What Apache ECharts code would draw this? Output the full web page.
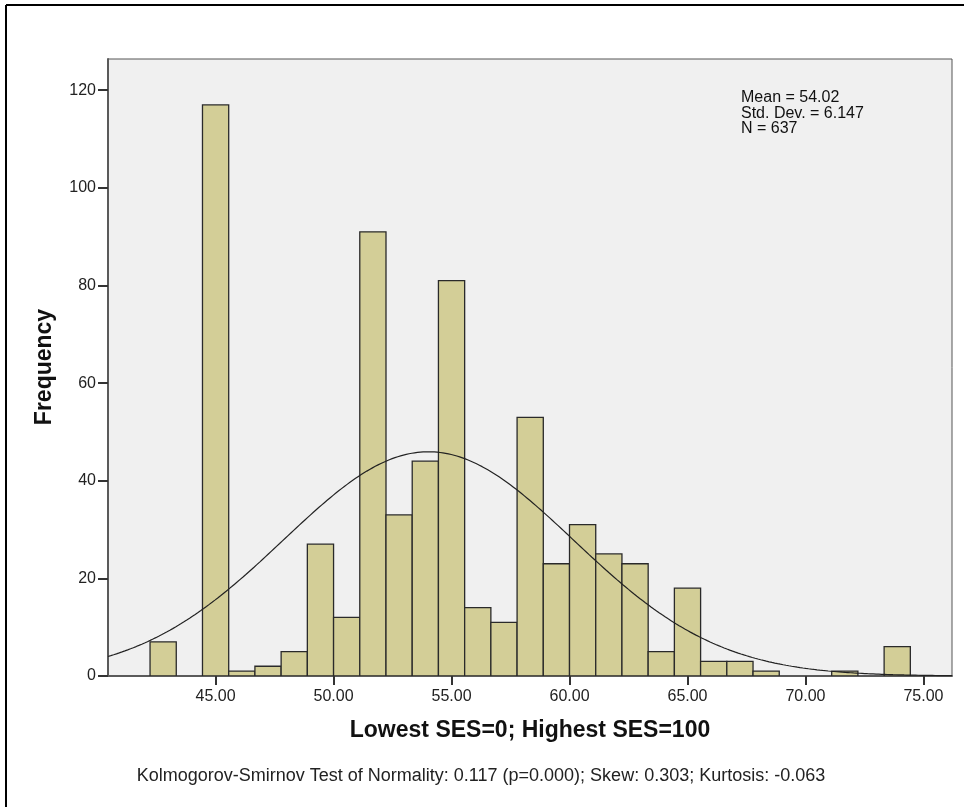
<!DOCTYPE html>
<html>
<head>
<meta charset="utf-8">
<script src="https://cdn.jsdelivr.net/npm/echarts@6/dist/echarts.min.js"></script>
<style>
  html, body { margin: 0; padding: 0; background: #ffffff; }
  #chart { width: 964px; height: 807px; }
</style>
</head>
<body>
<div id="chart"></div>
<script>
// Histogram of SES scores with a fitted normal curve
const binStart = 42.222;
const binWidth = 10 / 9;
const binCounts = [7, 0, 117, 1, 2, 5, 27, 12, 91, 33, 44, 81, 14, 11, 53, 23, 31, 25, 23, 5, 18, 3, 3, 1, 0, 0, 1, 0, 6];

const statMean = 54.02;
const statSD = 6.147;
const statN = 637;

const xTicks = [45, 50, 55, 60, 65, 70, 75];
const yTicks = [0, 20, 40, 60, 80, 100, 120];

const xMin = 40.44, xMax = 76.21;
const yMax = 126.4;

const statsLines = ['Mean = 54.02', 'Std. Dev. = 6.147', 'N = 637'];
const xTitle = 'Lowest SES=0; Highest SES=100';
const yTitle = 'Frequency';
const footnote = 'Kolmogorov-Smirnov Test of Normality: 0.117 (p=0.000); Skew: 0.303; Kurtosis: -0.063';

// bars as [left edge, right edge, count]
const barData = binCounts.map((c, i) => [binStart + i * binWidth, binStart + (i + 1) * binWidth, c]);

// normal density scaled to counts per bin
const curveData = [];
const steps = 300;
for (let k = 0; k <= steps; k++) {
  const x = xMin + (xMax - xMin) * k / steps;
  const z = (x - statMean) / statSD;
  const y = statN * binWidth * Math.exp(-0.5 * z * z) / (statSD * Math.sqrt(2 * Math.PI));
  curveData.push([x, y]);
}

const chart = echarts.init(document.getElementById('chart'), null, { renderer: 'canvas' });
const font = 'Arial, "Liberation Sans", sans-serif';

chart.setOption({
  animation: false,
  backgroundColor: '#ffffff',
  grid: {
    left: 108, top: 59, right: 12, bottom: 131,
    show: true, backgroundColor: '#f0f0f0', borderColor: '#555555', borderWidth: 1
  },
  xAxis: {
    type: 'value', min: xMin, max: xMax,
    axisLine: { show: true, onZero: false, lineStyle: { color: '#5a5a5a', width: 2 } },
    axisTick: { show: true, customValues: xTicks, length: 9, inside: false, lineStyle: { color: '#333333', width: 2 } },
    axisLabel: { customValues: xTicks, color: '#222222', fontFamily: font, fontSize: 16, margin: 13,
      formatter: v => v.toFixed(2) },
    splitLine: { show: false }
  },
  yAxis: {
    type: 'value', min: 0, max: yMax,
    axisLine: { show: true, lineStyle: { color: '#5a5a5a', width: 2 } },
    axisTick: { show: true, customValues: yTicks, length: 10, lineStyle: { color: '#333333', width: 2 } },
    axisLabel: { customValues: yTicks, color: '#222222', fontFamily: font, fontSize: 16, margin: 12 },
    splitLine: { show: false }
  },
  series: [
    {
      type: 'custom',
      data: barData,
      encode: { x: [0, 1], y: 2 },
      clip: true,
      renderItem: function (params, api) {
        const count = api.value(2);
        if (!count) return null;
        const p0 = api.coord([api.value(0), count]);
        const p1 = api.coord([api.value(1), 0]);
        return {
          type: 'rect',
          shape: { x: p0[0], y: p0[1], width: p1[0] - p0[0], height: p1[1] - p0[1] },
          style: { fill: '#d3ce97', stroke: '#2a2a2a', lineWidth: 1.3 }
        };
      },
      z: 2
    },
    {
      type: 'line',
      data: curveData,
      showSymbol: false,
      symbol: 'none',
      smooth: false,
      lineStyle: { color: '#222222', width: 1.2 },
      clip: true,
      z: 3
    }
  ],
  graphic: [
    // outer frame
    { type: 'line', shape: { x1: 6, y1: 5, x2: 964, y2: 5 }, style: { stroke: '#000', lineWidth: 2 }, silent: true },
    { type: 'line', shape: { x1: 6, y1: 5, x2: 6, y2: 807 }, style: { stroke: '#000', lineWidth: 2 }, silent: true },
    {
      type: 'text', left: 741, top: 90, silent: true,
      style: { text: statsLines.join('\n'), font: '16px ' + font, fill: '#111', lineHeight: 15.5 }
    },
    {
      type: 'text', silent: true, x: 45, y: 367, rotation: Math.PI / 2,
      style: { text: yTitle, font: 'bold 23px ' + font, fill: '#111', align: 'center', verticalAlign: 'middle' }
    },
    {
      type: 'text', silent: true, x: 530, y: 731,
      style: { text: xTitle, font: 'bold 23px ' + font, fill: '#111', align: 'center', verticalAlign: 'middle' }
    },
    {
      type: 'text', silent: true, x: 481, y: 776,
      style: { text: footnote, font: '18px "Liberation Sans Narrow", "Arial Narrow", ' + font, fill: '#222', align: 'center', verticalAlign: 'middle' }
    }
  ]
});
</script>
</body>
</html>
